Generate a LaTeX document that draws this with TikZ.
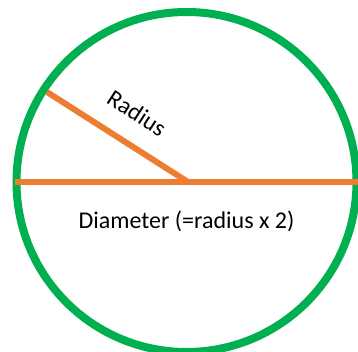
\documentclass[tikz,border=0pt]{standalone}
\usepackage{fontspec}
\setmainfont{Carlito}
\definecolor{ringgreen}{HTML}{00B050}
\definecolor{lineorange}{HTML}{ED7D31}
\tikzset{
  ring/.style={draw=ringgreen, line width=8pt},
  segment/.style={draw=lineorange, line width=6pt},
  lbl/.style={font=\fontsize{24}{28}\selectfont, inner sep=0pt}
}
\begin{document}
\begin{tikzpicture}[x=1pt,y=-1pt]
  \useasboundingbox (0,0) rectangle (358,351);
  \coordinate (O) at (186.5,182);
  \coordinate (L) at (15,182);
  \coordinate (R) at (362,182);
  \coordinate (P) at (47,92);
  \coordinate (C) at (188,182);
  \draw[ring] (O) circle (170);
  \draw[segment] (L) -- (R);
  \draw[segment] (P) -- (C);
  \node[lbl, rotate=-33] (rad) at (137,113) {Radius};
  \node[lbl] (dia) at (186.5,221) {Diameter (=radius x 2)};
\end{tikzpicture}
\end{document}
